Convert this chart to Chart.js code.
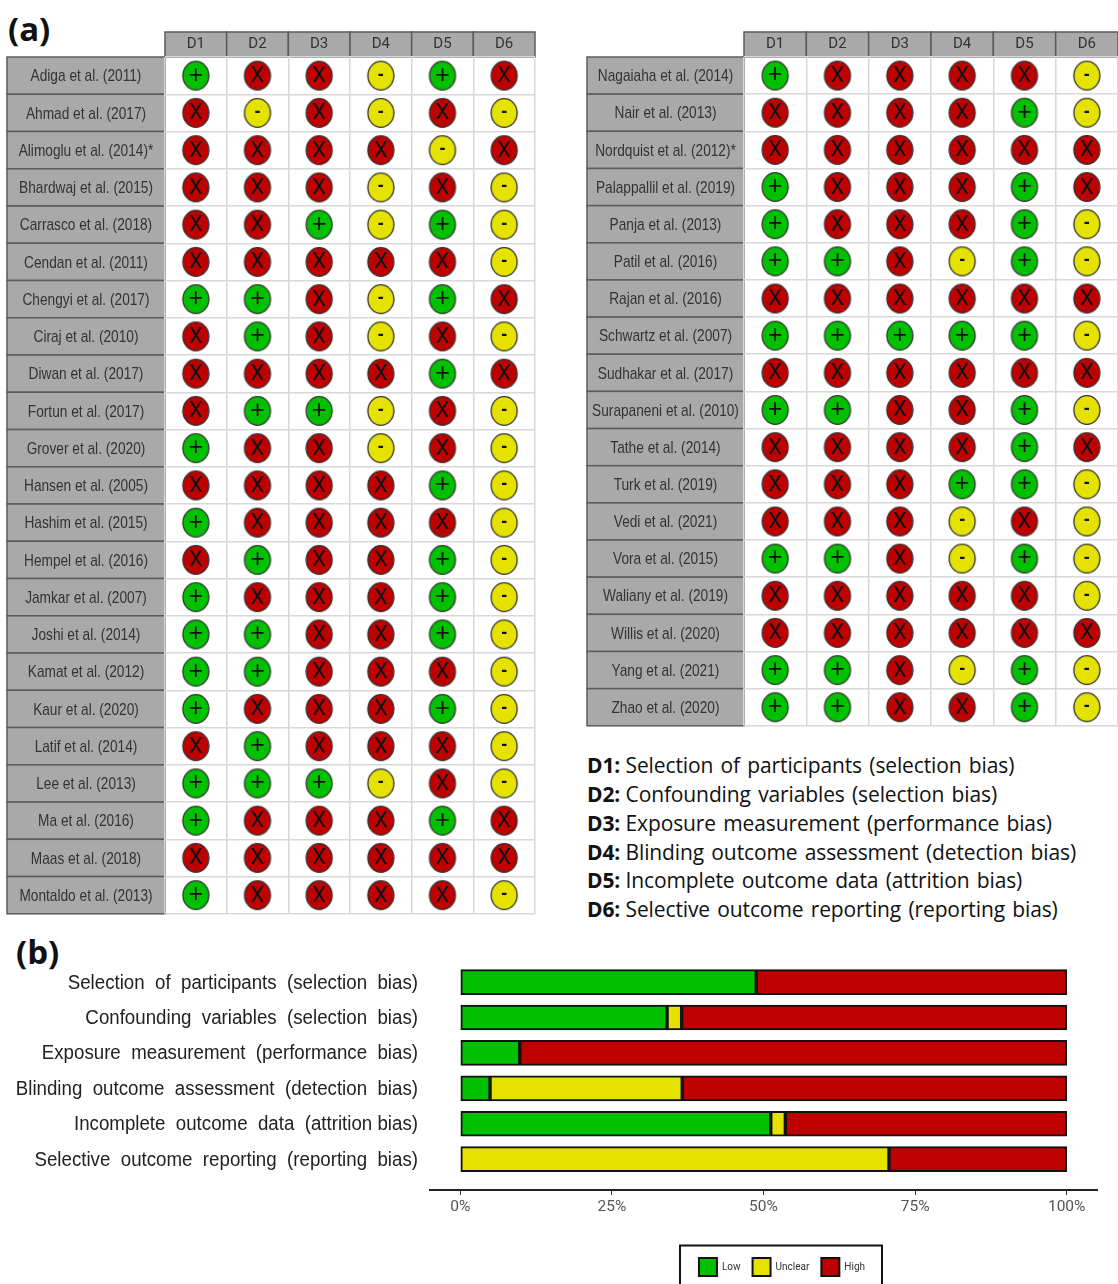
<!DOCTYPE html>
<html lang="en">

<head>
    <meta charset="UTF-8">
    <title>Risk of bias</title>
    <script src="https://cdn.jsdelivr.net/npm/chart.js"></script>
    <style>
        html, body { margin: 0; padding: 0; background: #fff; }
        #page { position: relative; width: 1118px; height: 1284px; overflow: hidden; }
        canvas { position: absolute; filter: blur(0.4px); }
        .tag { position: absolute; font: bold 33px "Open Sans", sans-serif; color: #111; }
        #notes { position: absolute; left: 587px; top: 751px; font: 21px/28.85px "Open Sans", sans-serif; color: #111; white-space: nowrap; letter-spacing: -0.12px; }
        #notes b { font-weight: 700; }
    </style>
</head>

<body>
    <div id="page">
        <div class="tag" style="left:8px; top:6px;">(a)</div>
        <div class="tag" style="left:16px; top:929px;">(b)</div>
        <canvas id="leftChart" width="540" height="928" style="left:0; top:0;"></canvas>
        <canvas id="rightChart" width="538" height="740" style="left:580px; top:0;"></canvas>
        <div id="notes"></div>
        <canvas id="barChart" width="1118" height="344" style="left:0; top:940px;"></canvas>
    </div>

    <script>
        const domains = ['D1', 'D2', 'D3', 'D4', 'D5', 'D6'];

        const leftStudies = ['Adiga et al. (2011)', 'Ahmad et al. (2017)', 'Alimoglu et al. (2014)*', 'Bhardwaj et al. (2015)',
            'Carrasco et al. (2018)', 'Cendan et al. (2011)', 'Chengyi et al. (2017)', 'Ciraj et al. (2010)', 'Diwan et al. (2017)',
            'Fortun et al. (2017)', 'Grover et al. (2020)', 'Hansen et al. (2005)', 'Hashim et al. (2015)', 'Hempel et al. (2016)',
            'Jamkar et al. (2007)', 'Joshi et al. (2014)', 'Kamat et al. (2012)', 'Kaur et al. (2020)', 'Latif et al. (2014)',
            'Lee et al. (2013)', 'Ma et al. (2016)', 'Maas et al. (2018)', 'Montaldo et al. (2013)'];
        // one string per study, one symbol per domain
        const leftRatings = ['+XX-+X', 'X-X-X-', 'XXXX-X', 'XXX-X-', 'XX+-+-', 'XXXXX-', '++X-+X', 'X+X-X-', 'XXXX+X', 'X++-X-',
            '+XX-X-', 'XXXX+-', '+XXXX-', 'X+XX+-', '+XXX+-', '++XX+-', '++XXX-', '+XXX+-', 'X+XXX-', '+++-X-', '+XXX+X', 'XXXXXX', '+XXXX-'];

        const rightStudies = ['Nagaiaha et al. (2014)', 'Nair et al. (2013)', 'Nordquist et al. (2012)*', 'Palappallil et al. (2019)',
            'Panja et al. (2013)', 'Patil et al. (2016)', 'Rajan et al. (2016)', 'Schwartz et al. (2007)', 'Sudhakar et al. (2017)',
            'Surapaneni et al. (2010)', 'Tathe et al. (2014)', 'Turk et al. (2019)', 'Vedi et al. (2021)', 'Vora et al. (2015)',
            'Waliany et al. (2019)', 'Willis et al. (2020)', 'Yang et al. (2021)', 'Zhao et al. (2020)'];
        const rightRatings = ['+XXXX-', 'XXXX+-', 'XXXXXX', '+XXX+X', '+XXX+-', '++X-+-', 'XXXXXX', '+++++-', 'XXXXXX', '++XX+-',
            'XXXX+X', 'XXX++-', 'XXX-X-', '++X-+-', 'XXXXX-', 'XXXXXX', '++X-+-', '++XX+-'];

        const biasLabels = ['Selection  of  participants  (selection  bias)', 'Confounding  variables  (selection  bias)',
            'Exposure  measurement  (performance  bias)', 'Blinding  outcome  assessment  (detection  bias)',
            'Incomplete  outcome  data  (attrition bias)', 'Selective  outcome  reporting  (reporting  bias)'];
        const lowValues = [48.8, 34.1, 9.8, 4.9, 51.2, 0];
        const unclearValues = [0, 2.4, 0, 31.7, 2.4, 70.7];
        const highValues = [51.2, 63.5, 90.2, 63.4, 46.4, 29.3];
        const percentTicks = [0, 25, 50, 75, 100];

        const noteKeys = ['D1:', 'D2:', 'D3:', 'D4:', 'D5:', 'D6:'];
        const noteTexts = ['Selection of participants (selection bias)', 'Confounding variables (selection bias)',
            'Exposure measurement (performance bias)', 'Blinding outcome assessment (detection bias)',
            'Incomplete outcome data (attrition bias)', 'Selective outcome reporting (reporting bias)'];

        document.getElementById('notes').innerHTML = noteKeys
            .map((k, i) => '<div><b>' + k + '</b> ' + noteTexts[i].replace(/ /g, '&nbsp;&#8202;') + '</div>').join('');

        const GREEN = '#00c000', YELLOW = '#e5e200', RED = '#bf0000';
        const LABEL_FONT = '"Liberation Sans", sans-serif';

        // ellipse used as point style, the marks are a little taller than wide
        function markShape(fill) {
            const c = document.createElement('canvas');
            c.width = 30; c.height = 32;
            const g = c.getContext('2d');
            g.beginPath();
            g.ellipse(15, 16, 13, 14.3, 0, 0, Math.PI * 2);
            g.fillStyle = fill;
            g.fill();
            g.lineWidth = 1.3;
            g.strokeStyle = '#333';
            g.stroke();
            return c;
        }

        const levels = [
            { symbol: '+', label: 'Low', color: GREEN, font: '25px "Liberation Sans"', dy: 0 },
            { symbol: '-', label: 'Unclear', color: YELLOW, font: 'bold 18px "Liberation Sans"', dy: -1 },
            { symbol: 'X', label: 'High', color: RED, font: '22px Roboto', dy: 1 },
        ];

        // no narrow font here, so the y labels get squeezed sideways when they are drawn
        function squeezeLabels(scale, from, to, k) {
            const draw = scale.drawLabels;
            scale._computeLabelArea = () => undefined; // the clip box would cut them off
            scale.drawLabels = function (area) {
                const ctx = scale.ctx;
                ctx.save();
                ctx.translate(to, 1);
                ctx.scale(k, 1);
                ctx.translate(-from(), 0);
                draw.call(scale, area);
                ctx.restore();
            };
        }

        // grey header and study boxes behind the tick labels, symbols on top of the marks
        const trafficPlugin = {
            id: 'traffic',
            beforeDraw(chart) {
                const { ctx, scales: { x, y } } = chart;
                ctx.save();
                ctx.fillStyle = '#a9a9a9';
                ctx.strokeStyle = '#5c5c5c';
                ctx.lineWidth = 1.5;
                const bandX = x.width / domains.length;
                domains.forEach((d, i) => {
                    const px = x.getPixelForTick(i) - bandX / 2;
                    ctx.fillRect(px, x.top, bandX, x.height);
                    ctx.strokeRect(px, x.top, bandX, x.height);
                });
                const n = y.getLabels().length;
                const bandY = y.height / n;
                for (let i = 0; i < n; i++) {
                    const py = y.getPixelForTick(i) - bandY / 2;
                    ctx.fillRect(y.left, py, y.width, bandY);
                    ctx.strokeRect(y.left, py, y.width, bandY);
                }
                ctx.restore();
            },
            afterDatasetsDraw(chart) {
                const { ctx } = chart;
                ctx.save();
                ctx.textAlign = 'center';
                ctx.textBaseline = 'middle';
                ctx.fillStyle = '#111';
                chart.data.datasets.forEach((ds, i) => {
                    ctx.font = ds.symbolFont;
                    chart.getDatasetMeta(i).data.forEach((pt) => {
                        ctx.fillText(ds.symbol, pt.x, pt.y + ds.symbolDy);
                    });
                });
                ctx.restore();
            },
        };

        function trafficChart(id, studies, ratings, padding, labelPadding, yWidth) {
            const datasets = levels.map((lv) => {
                const points = [];
                ratings.forEach((row, r) => {
                    domains.forEach((d, c) => {
                        if (row[c] === lv.symbol) points.push({ x: d, y: studies[r] });
                    });
                });
                return {
                    label: lv.label,
                    data: points,
                    pointStyle: markShape(lv.color),
                    pointRadius: 14,
                    symbol: lv.symbol,
                    symbolFont: lv.font,
                    symbolDy: lv.dy,
                };
            });

            const chart = new Chart(document.getElementById(id), {
                type: 'scatter',
                data: { datasets },
                plugins: [trafficPlugin],
                options: {
                    responsive: false,
                    animation: false,
                    layout: { padding, autoPadding: false },
                    plugins: { legend: { display: false }, tooltip: { enabled: false } },
                    scales: {
                        x: {
                            type: 'category',
                            labels: domains,
                            position: 'top',
                            offset: true,
                            afterFit: (s) => { s.height = 25; },
                            grid: { offset: true, color: '#d8d8d8', lineWidth: 1.5, drawTicks: false },
                            border: { display: false },
                            ticks: { color: '#333', font: { family: 'Roboto', size: 15 }, padding: 4, maxRotation: 0 },
                        },
                        y: {
                            type: 'category',
                            labels: studies,
                            offset: true,
                            afterFit: (s) => { s.width = yWidth; },
                            grid: { offset: true, color: '#d8d8d8', lineWidth: 1.5, drawTicks: false },
                            border: { display: false },
                            ticks: { color: '#333', font: { family: LABEL_FONT, size: 17 }, crossAlign: 'center', padding: labelPadding, autoSkip: false },
                        },
                    },
                },
            });
            const ys = chart.scales.y;
            squeezeLabels(ys, () => ys.right - labelPadding - ys._getLabelSizes().widest.width / 2, ys.left + ys.width / 2, 0.805);
            chart.draw();
        }

        trafficChart('leftChart', leftStudies, leftRatings, { left: 7, right: 5, top: 32, bottom: 1 }, 4, 158);
        trafficChart('rightChart', rightStudies, rightRatings, { left: 7, right: 0, top: 32, bottom: 13 }, 4, 157);

        // frame around the legend, legend itself is moved under the plot
        const legendFrame = {
            id: 'legendFrame',
            afterLayout(chart) {
                const lg = chart.legend;
                lg.left = 680; lg.right = 884; lg.top = 306; lg.bottom = 344;
            },
            afterDraw(chart) {
                const { ctx } = chart;
                ctx.save();
                ctx.strokeStyle = '#111';
                ctx.lineWidth = 2;
                ctx.strokeRect(680, 305.5, 202, 50);
                ctx.restore();
            },
        };

        const barChart = new Chart(document.getElementById('barChart'), {
            type: 'bar',
            data: {
                datasets: [
                    { label: 'Low', data: lowValues.map((v, i) => ({ x: v, y: i })), backgroundColor: GREEN },
                    { label: 'Unclear', data: unclearValues.map((v, i) => ({ x: v, y: i })), backgroundColor: YELLOW },
                    { label: 'High', data: highValues.map((v, i) => ({ x: v, y: i })), backgroundColor: RED },
                ].map((d) => ({ ...d, borderColor: '#111', borderWidth: 2, borderSkipped: false, barThickness: 25 })),
            },
            plugins: [legendFrame],
            options: {
                indexAxis: 'y',
                responsive: false,
                animation: false,
                layout: { padding: { top: 19, right: 21, bottom: 24 } },
                plugins: {
                    tooltip: { enabled: false },
                    legend: {
                        position: 'bottom',
                        labels: { boxWidth: 18, boxHeight: 18, padding: 12, color: '#333', font: { family: 'Roboto', size: 10 } },
                    },
                },
                scales: {
                    x: {
                        type: 'linear',
                        stacked: true,
                        min: -5,
                        max: 105,
                        afterBuildTicks: (s) => { s.ticks = percentTicks.map((v) => ({ value: v })); },
                        afterFit: (s) => { s.height = 30; },
                        grid: { drawOnChartArea: false, tickLength: 5, color: '#333', lineWidth: 1 },
                        border: { color: '#222', width: 2 },
                        ticks: { color: '#555', font: { family: 'Roboto', size: 15.5 }, padding: 3, callback: (v) => v + '%', maxRotation: 0 },
                    },
                    y: {
                        type: 'linear',
                        stacked: true,
                        reverse: true,
                        offset: false,
                        min: -0.51,
                        max: 5.87,
                        afterBuildTicks: (s) => { s.ticks = biasLabels.map((l, i) => ({ value: i })); },
                        afterFit: (s) => { s.width = 430; },
                        grid: { display: false, drawTicks: false },
                        border: { display: false },
                        ticks: { color: '#222', font: { family: LABEL_FONT, size: 20 }, padding: 12, autoSkip: false, callback: (v) => biasLabels[v] },
                    },
                },
            },
        });
        squeezeLabels(barChart.scales.y, () => 418, 418, 0.935);
        barChart.draw();
    </script>
</body>

</html>
